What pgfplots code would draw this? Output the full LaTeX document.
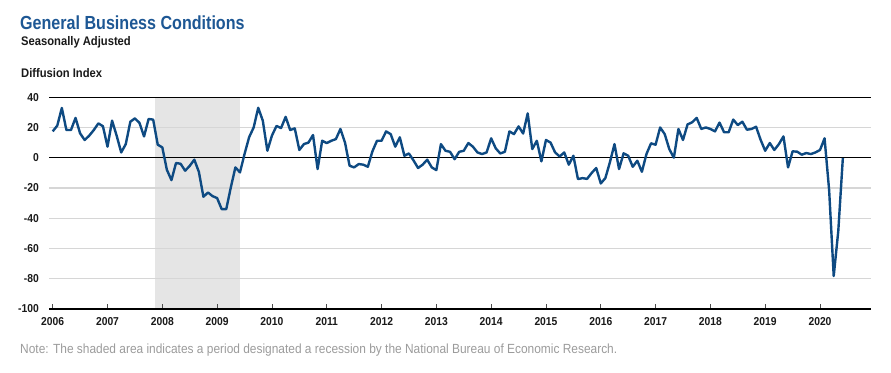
\documentclass[border=0pt]{standalone}
\usepackage{fontspec}
\setmainfont{Liberation Sans}[FakeStretch=0.9]
\newfontfamily\titlefont{Liberation Sans Bold}[FakeStretch=0.85]
\usepackage{pgfplots}
\pgfplotsset{compat=1.18}
\definecolor{linec}{HTML}{0E4A82}
\definecolor{titlec}{HTML}{1D5794}
\definecolor{shadec}{HTML}{E5E5E5}
\definecolor{gridc}{HTML}{D6D6D6}
\definecolor{notec}{HTML}{9B9B9B}
\begin{document}
\begin{tikzpicture}
\path (0,0) rectangle (891bp,373bp);
\node[anchor=base west, inner sep=0, text=titlec, font=\fontsize{19}{21}\titlefont] at (20bp,343bp) {General Business Conditions};
\node[anchor=base west, inner sep=0, text=black!90, font=\fontsize{12.5}{14}\selectfont\bfseries] at (21bp,327bp) {Seasonally Adjusted};
\node[anchor=base west, inner sep=0, text=black!90, font=\fontsize{12.5}{14}\selectfont\bfseries] at (21bp,295bp) {Diffusion Index};
\node[anchor=base west, inner sep=0, text=notec, font=\fontsize{13.3}{15}\selectfont] at (20bp,20bp) {Note: The shaded area indicates a period designated a recession by the National Bureau of Economic Research.};
\begin{axis}[
  at={(49bp,64bp)}, anchor=south west,
  scale only axis, width=821.7bp, height=211.8bp,
  xmin=-0.81, xmax=179.1, ymin=-100, ymax=40,
  xtick={0,12,24,36,48,60,72,84,96,108,120,132,144,156,168},
  xticklabels={2006,2007,2008,2009,2010,2011,2012,2013,2014,2015,2016,2017,2018,2019,2020},
  ytick={-100,-80,-60,-40,-20,0,20,40},
  ymajorgrids, grid style={gridc, line width=1.2bp},
  axis line style={draw=none},
  xtick pos=left, tick align=inside, major tick length=5bp,
  x tick style={draw=black!70, line width=0.8bp},
  y tick style={draw=none},
  tick label style={font=\fontsize{11.5}{13}\selectfont\bfseries, text=black!90},
  yticklabel style={inner sep=0pt, anchor=east, xshift=-10bp},
  xticklabel style={inner sep=0pt, anchor=north, yshift=-8bp},
  /pgf/number format/assume math mode=true,
  set layers, clip=false,
]
\addplot[fill=shadec, draw=none, forget plot, on layer=axis background] coordinates {(22.4,-100)(22.4,40)(41,40)(41,-100)(22.4,-100)};
\draw[black, line width=1.2bp] (axis cs:-0.81,0) -- (axis cs:179.1,0);
\draw[black, line width=1.2bp] (axis cs:-0.81,40) -- (axis cs:179.1,40);
\draw[black, line width=1.2bp] (axis cs:-0.81,-100) -- (axis cs:179.1,-100);
\addplot[linec, line width=2.4bp, line join=round, no marks] coordinates {
(0,17.4)(1,21.2)(2,32.9)(3,18.3)(4,18.3)(5,26.3)(6,16.1)(7,11.7)(8,14.6)(9,18.3)(10,22.7)(11,20.8)
(12,7.3)(13,24.5)(14,14.6)(15,3.5)(16,9)(17,23.8)(18,26)(19,23)(20,14.1)(21,25.6)(22,25.2)(23,8.6)
(24,6.8)(25,-8)(26,-14.8)(27,-3.5)(28,-4)(29,-8.6)(30,-5.4)(31,-1.3)(32,-9.3)(33,-25.8)(34,-23)(35,-25.4)
(36,-26.7)(37,-34)(38,-34)(39,-19.6)(40,-6.4)(41,-9.7)(42,2.4)(43,13.5)(44,20)(45,33)(46,24.5)(47,4.6)
(48,14.6)(49,21)(50,19.6)(51,27)(52,18.3)(53,19.4)(54,5.1)(55,9)(56,10)(57,15)(58,-7.5)(59,11.2)
(60,9.7)(61,11.2)(62,12.3)(63,19)(64,10)(65,-5.3)(66,-6.4)(67,-4.2)(68,-4.6)(69,-6)(70,4.2)(71,11.2)
(72,11.2)(73,17.4)(74,15.6)(75,7.3)(76,13.5)(77,1.3)(78,2.8)(79,-1.8)(80,-6.8)(81,-4.6)(82,-1.3)(83,-6.4)
(84,-8.2)(85,9)(86,4.6)(87,3.9)(88,-1)(89,3.9)(90,4.6)(91,9.7)(92,7.3)(93,3.5)(94,2.4)(95,3.5)
(96,12.8)(97,6.2)(98,2.8)(99,3.9)(100,17.4)(101,15.6)(102,20.7)(103,16)(104,29.3)(105,5.7)(106,11.2)(107,-2.4)
(108,11.7)(109,10)(110,3.5)(111,0.8)(112,3.5)(113,-4.6)(114,1.3)(115,-14.1)(116,-13.5)(117,-14)(118,-10.1)(119,-6.8)
(120,-17)(121,-13.5)(122,-3)(123,9)(124,-7.5)(125,2.9)(126,1.3)(127,-6)(128,-2)(129,-9.3)(130,2.4)(131,9.5)
(132,8.6)(133,20)(134,15.6)(135,5.7)(136,0)(137,19)(138,11.7)(139,22)(140,23.4)(141,26.3)(142,19)(143,20)
(144,19)(145,17.4)(146,23.2)(147,16.8)(148,16.8)(149,25.2)(150,21.6)(151,23.8)(152,18.5)(153,19)(154,20.5)(155,11.8)
(156,4.6)(157,9.7)(158,5.1)(159,9)(160,14.1)(161,-6.4)(162,4.2)(163,4)(164,2)(165,3.1)(166,2.4)(167,3.5)
(168,5.1)(169,12.8)(170,-21.5)(171,-78.2)(172,-48.5)(173,-0.2)
};
\end{axis}
\end{tikzpicture}
\end{document}
